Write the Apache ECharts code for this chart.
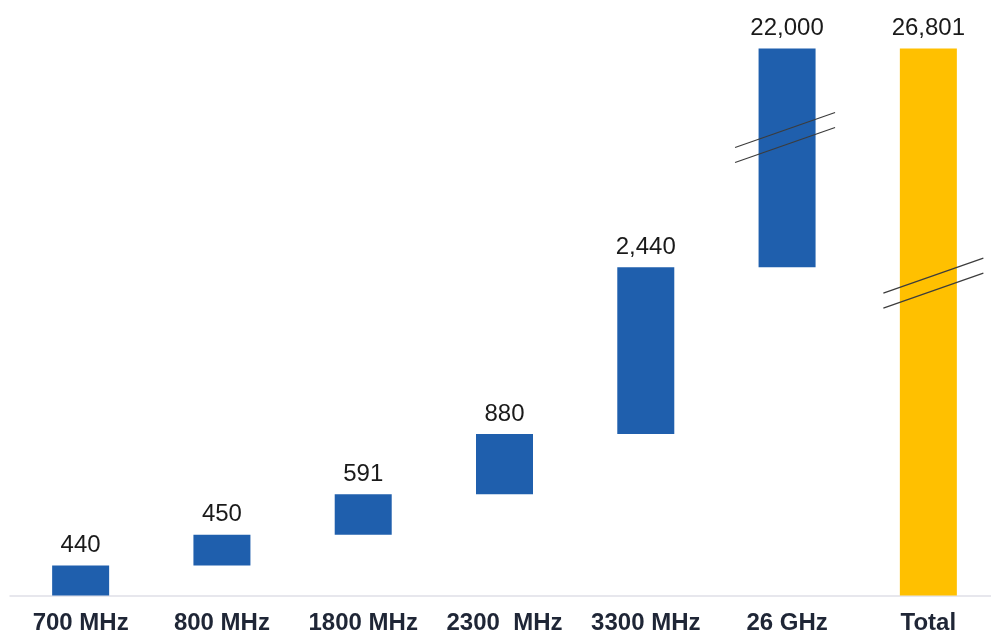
<!DOCTYPE html>
<html>
<head>
<meta charset="utf-8">
<script src="https://cdn.jsdelivr.net/npm/echarts@6/dist/echarts.min.js"></script>
<style>
  html, body { margin: 0; padding: 0; background: #fff; overflow: hidden; }
  #main { width: 999px; height: 636px; }
</style>
</head>
<body>
<div id="main"></div>
<script>
// data
var categories = ['700 MHz', '800 MHz', '1800 MHz', '2300  MHz', '3300 MHz', '26 GHz', 'Total'];
var increments = [440, 450, 591, 880, 2440, 22000];
var total = 26801;

// waterfall: invisible base + visible step
var values = increments.concat([total]);
var base = [];
var run = 0;
increments.forEach(function (v) { base.push(run); run += v; });
base.push(0);

// where the scale is cut (value units)
var axisBreak = { start: 6690, end: 25491 };
// slash marks drawn on the tall bars, as a fraction of the bar from its top
var breakMarks = [{ cat: '26 GHz', at: 0.407, dx: -2 }, { cat: 'Total', at: 0.429, dx: 5 }];

function fmt(v) {
  return String(v).replace(/\B(?=(\d{3})+(?!\d))/g, ',');
}

var chart = echarts.init(document.getElementById('main'));
chart.setOption({
  animation: false,
  grid: { left: 10, right: 0, top: 48.5, bottom: 40.5 },
  xAxis: {
    type: 'category',
    data: categories,
    axisLine: { lineStyle: { color: '#e0e0e8', width: 1.5 } },
    axisTick: { show: false },
    axisLabel: {
      interval: 0,
      margin: 16,
      fontFamily: 'Liberation Sans',
      fontSize: 24,
      fontWeight: 'bold',
      color: '#1f2636'
    }
  },
  yAxis: {
    type: 'value',
    min: 0,
    max: total,
    breaks: [{ start: axisBreak.start, end: axisBreak.end, gap: 0 }],
    breakArea: { show: false },
    axisLine: { show: false },
    axisTick: { show: false },
    axisLabel: { show: false },
    splitLine: { show: false }
  },
  series: [
    {
      name: 'base',
      type: 'bar',
      stack: 'w',
      silent: true,
      itemStyle: { color: 'transparent' },
      data: base
    },
    {
      name: 'value',
      type: 'bar',
      stack: 'w',
      barWidth: 57,
      data: values.map(function (v, i) {
        return {
          value: v,
          itemStyle: { color: i === values.length - 1 ? '#ffc000' : '#1f5fad' }
        };
      }),
      label: {
        show: true,
        position: 'top',
        distance: 8,
        fontFamily: 'Liberation Sans',
        fontSize: 24,
        color: '#1a1a1a',
        formatter: function (p) { return fmt(p.value); }
      }
    }
  ]
});

// double slash break marks
var marks = [];
breakMarks.forEach(function (m) {
  var i = categories.indexOf(m.cat);
  var top = chart.convertToPixel({ gridIndex: 0 }, [i, base[i] + values[i]]);
  var bot = chart.convertToPixel({ gridIndex: 0 }, [i, base[i]]);
  var cx = top[0] + m.dx;
  var cy = top[1] + (bot[1] - top[1]) * m.at;
  [-7.5, 7.5].forEach(function (dy) {
    marks.push({
      type: 'line',
      z: 100,
      shape: { x1: cx - 50, y1: cy + dy + 17.5, x2: cx + 50, y2: cy + dy - 17.5 },
      style: { stroke: '#3c3c3c', lineWidth: 1.2 }
    });
  });
});
chart.setOption({ graphic: marks });
</script>
</body>
</html>
